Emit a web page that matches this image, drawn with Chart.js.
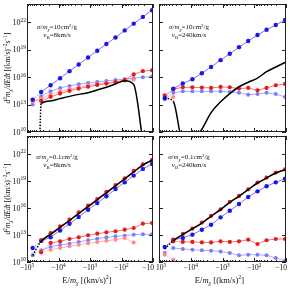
<!DOCTYPE html>
<html>
<head>
<meta charset="utf-8">
<script src="https://cdn.jsdelivr.net/npm/chart.js@4/dist/chart.umd.min.js"></script>
<style>
  body { margin: 0; background: #fff; }
  #wrap { position: relative; width: 290px; height: 291px; }
  #wrap canvas { position: absolute; left: 0; top: 0; }
</style>
</head>
<body>
<div id="wrap">
  <canvas id="tl" width="290" height="291"></canvas>
  <canvas id="tr" width="290" height="291"></canvas>
  <canvas id="bl" width="290" height="291"></canvas>
  <canvas id="br" width="290" height="291"></canvas>
</div>
<script>
// E/m_chi bins in (km/s)^2 (negative energies)
const energyBins = [-66000, -35500, -17800, -8900, -4470, -2290, -1150, -589, -302, -155, -79, -41, -21, -10.7];

// tick values
const xTicks = [-1e5, -1e4, -1e3, -1e2, -10];
const yTicks = [1e10, 1e13, 1e16, 1e19, 1e22];

// panel labels
const crossSections = ['10', '10', '0.1', '0.1'];
const vBaryon = ['8', '240', '8', '240'];

// top left: sigma/m = 10 cm^2/g, vB = 8 km/s
const tlBlue = [3.5e13, 2.4e14, 1.3e15, 7.6e15, 4.5e16, 2.4e17, 1.4e18, 7.8e18, 4.2e19, 2.2e20, 1.3e21, 7.1e21, 3.9e22, 2.1e23];
const tlRed = [3.2e13, 2.5e13, 7.1e13, 1.6e14, 3.2e14, 5.6e14, 8.9e14, 1.4e15, 2.0e15, 2.8e15, 5.0e15, 2.0e16, 4.5e16, 5.6e16];
const tlLightBlue = [1.0e13, 7.9e13, 2.8e14, 6.6e14, 1.1e15, 1.7e15, 2.3e15, 3.0e15, 3.9e15, 5.0e15, 5.9e15, 7.6e15, 9.8e15, 1.2e16];
const tlLightRed = [2.0e13, 4.5e13, 1.3e14, 2.8e14, 5.0e14, 7.9e14, 1.3e15, 1.8e15, 2.5e15, 3.2e15, 4.0e15, 5.6e15];
const tlBlackE = [-39800, -35500, -17800, -8900, -4470, -2290, -1150, -589, -302, -155, -79, -41, -21];
const tlBlack = [1e9, 1.3e13, 2.5e13, 4.5e13, 7.9e13, 1.3e14, 2.0e14, 4.0e14, 7.9e14, 1.8e15, 4.0e15, 1.6e15, 1e9];

// top right: sigma/m = 10 cm^2/g, vB = 240 km/s
const trBlue = [5.2e13, 5.6e14, 2.0e15, 5.9e15, 2.7e16, 1.3e17, 7.2e17, 3.6e18, 1.9e19, 8.9e19, 4.1e20, 1.5e21, 5.1e21, 1.8e22];
const trRed = [1.0e14, 4.7e14, 7.8e14, 7.8e14, 7.2e14, 6.6e14, 8.5e14, 7.8e14, 5.6e14, 6.6e14, 3.6e14, 6.6e14, 1.3e15, 1.8e15];
const trLightBlue = [3.8e13, 2.0e14, 2.8e14, 2.8e14, 2.8e14, 2.8e14, 2.8e14, 2.4e14, 2.0e14, 1.2e14, 1.4e14, 2.0e14, 1.4e14, 6.8e13];
const trLightRed = [6.8e13, 6.8e13];
const trBlack = [5.2e13, 2.3e13, 1e9, 1e9, 2.0e10, 1.3e12, 2.0e13, 1.6e14, 8.9e14, 2.8e15, 7.9e15, 4.0e16, 1.3e17, 4.0e17];

// bottom left: sigma/m = 0.1 cm^2/g, vB = 8 km/s
const blBlack = [5.5e10, 2.0e12, 1.2e13, 6.9e13, 4.1e14, 2.4e15, 1.4e16, 8.3e16, 4.9e17, 2.9e18, 1.7e19, 1.0e20, 5.9e20, 2.0e21];
const blRedUp = [null, 2.8e12, 1.6e13, 8.9e13, 5.0e14, 3.2e15, 1.8e16, 1.0e17, 6.3e17, 3.5e18, 2.0e19, 1.3e20, 7.1e20, 2.2e21];
const blBlueUp = [3.6e11, 2.2e12, 5.6e12, 3.2e13, 1.8e14, 1.0e15, 6.3e15, 3.5e16, 2.0e17, 1.3e18, 7.1e18, 4.0e19, 2.2e20, 7.9e20];
const blRedLow = [null, 1.2e11, 1.3e12, 2.0e12, 3.6e12, 5.5e12, 9.1e12, 1.4e13, 2.0e13, 2.6e13, 3.9e13, 6.0e13, 1.8e14, 2.1e14];
const blLightBlue = [5.5e10, 2.0e11, 4.7e11, 7.8e11, 1.1e12, 1.7e12, 2.6e12, 3.9e12, 5.5e12, 7.1e12, 8.5e12, 1.1e13, 1.2e13, 1.2e13];
const blLightRed = [null, 1.3e11, 2.3e11, 3.6e11, 5.5e11, 8.5e11, 1.2e12, 1.7e12, 2.3e12, 3.0e12, 4.7e12, 1.5e12];

// bottom right: sigma/m = 0.1 cm^2/g, vB = 240 km/s
const brBlack = [2.8e11, 2.3e12, 1.1e13, 4.7e13, 2.1e14, 1.2e15, 6.5e15, 4.3e16, 2.0e17, 1.1e18, 6.0e18, 2.1e19, 7.8e19, 1.8e20];
const brRedUp = [null, 2.8e12, 1.3e13, 5.2e13, 2.4e14, 1.3e15, 7.2e15, 4.8e16, 2.2e17, 1.2e18, 6.8e18, 2.4e19, 8.7e19, 2.0e20];
const brBlueUp = [4.7e11, 3.0e12, 4.7e12, 1.1e13, 3.9e13, 1.4e14, 9.1e14, 5.0e15, 2.8e16, 1.7e17, 7.1e17, 2.6e18, 7.1e18, 1.8e19];
const brRedLow = [null, 2.0e12, 1.7e12, 1.7e12, 1.5e12, 1.5e12, 2.0e12, 1.7e12, 2.0e12, 3.0e12, 1.0e12, 2.6e12, 3.6e12, 3.6e12];
const brLightBlue = [1.0e11, 3.6e11, 2.8e11, 2.3e11, 2.0e11, 1.8e11, 1.5e11, 1.0e11, 5.5e10, 6.5e10, 6.5e10, 5.5e10, 2.8e10, 1.4e10];
const brLightRed = [6.5e10, 1.8e10];

const SERIF = '"Liberation Serif", "DejaVu Serif", serif';

const styles = {
  black: { borderColor: '#000', borderWidth: 1.5, pointRadius: 0, cubicInterpolationMode: 'monotone' },
  blue: { borderColor: '#8a70dc', borderWidth: 1, pointRadius: 2.2, pointBackgroundColor: '#1616f0', pointBorderWidth: 0 },
  red: { borderColor: '#f07474', borderWidth: 1, pointRadius: 2.1, pointBackgroundColor: '#e41c1c', pointBorderWidth: 0 },
  lightBlue: { borderColor: '#a9a9ff', borderWidth: 1, pointRadius: 2, pointBackgroundColor: '#7c7cff', pointBorderWidth: 0 },
  lightRed: { borderColor: '#ffb2b2', borderWidth: 1, pointRadius: 2, pointBackgroundColor: '#ff8a8a', pointBorderWidth: 0 }
};

// draw a text made of pieces: n = normal, i = italic, sub / sup (optionally italic: isub, isup)
function drawRich(ctx, parts, x, y, size, align) {
  const fontFor = k => {
    const small = k.indexOf('sub') >= 0 || k.indexOf('sup') >= 0;
    return (k[0] === 'i' ? 'italic ' : '') + (small ? size * 0.7 : size) + 'px ' + SERIF;
  };
  let w = 0;
  parts.forEach(p => { ctx.font = fontFor(p[1]); w += ctx.measureText(p[0]).width; });
  let cx = align === 'right' ? x - w : (align === 'left' ? x : x - w / 2);
  const base = y + size * 0.33;
  ctx.textAlign = 'left';
  ctx.textBaseline = 'alphabetic';
  parts.forEach(p => {
    ctx.font = fontFor(p[1]);
    const dy = p[1].indexOf('sub') >= 0 ? size * 0.25 : (p[1].indexOf('sup') >= 0 ? -size * 0.4 : 0);
    ctx.fillText(p[0], cx, base + dy);
    cx += ctx.measureText(p[0]).width;
  });
}

function expOf(v) { return Math.round(Math.log10(Math.abs(v))); }

// frame, inward ticks, tick labels and texts
const panelDecor = {
  id: 'panelDecor',
  afterDraw(chart, args, o) {
    const ctx = chart.ctx;
    const a = chart.chartArea;
    const xs = chart.scales.x, ys = chart.scales.y;
    ctx.save();
    ctx.strokeStyle = '#222';
    ctx.lineWidth = 1;
    ctx.strokeRect(a.left + 0.5, a.top + 0.5, a.right - a.left - 1, a.bottom - a.top - 1);

    ctx.beginPath();
    yTicks.forEach(v => {
      const py = Math.round(ys.getPixelForValue(v)) + 0.5;
      ctx.moveTo(a.left, py); ctx.lineTo(a.left + 4, py);
      ctx.moveTo(a.right, py); ctx.lineTo(a.right - 4, py);
    });
    xTicks.forEach(v => {
      const px = Math.round(xs.getPixelForValue(-v)) + 0.5;
      ctx.moveTo(px, a.bottom); ctx.lineTo(px, a.bottom - 4);
      ctx.moveTo(px, a.top); ctx.lineTo(px, a.top + 4);
    });
    for (let n = 1; n < 5; n++) {
      for (let k = 2; k < 10; k++) {
        const px = Math.round(xs.getPixelForValue(k * Math.pow(10, n))) + 0.5;
        ctx.moveTo(px, a.bottom); ctx.lineTo(px, a.bottom - 2);
        ctx.moveTo(px, a.top); ctx.lineTo(px, a.top + 2);
      }
    }
    ctx.stroke();

    ctx.fillStyle = '#111';
    if (o.yLabels) {
      yTicks.forEach(v => {
        drawRich(ctx, [['10', 'n'], [String(expOf(v)), 'sup']], a.left - 1, ys.getPixelForValue(v), 8, 'right');
      });
      ctx.save();
      ctx.translate(8, (a.top + a.bottom) / 2);
      ctx.rotate(-Math.PI / 2);
      drawRich(ctx, [['d', 'i'], ['2', 'sup'], ['m', 'i'], ['χ', 'isub'], ['/dEdt', 'i'], [' [(km/s)', 'n'], ['−2', 'sup'], ['s', 'n'], ['−1', 'sup'], [']', 'n']], 0, 0, 7.5, 'center');
      ctx.restore();
    }
    if (o.xLabels) {
      ctx.save();
      ctx.beginPath();
      ctx.rect(o.clipLeft, 0, 290, 291);
      ctx.clip();
      xTicks.forEach(v => {
        const px = xs.getPixelForValue(-v);
        const e = expOf(v);
        const parts = e === 1 ? [['−10', 'n']] : [['−10', 'n'], [String(e), 'sup']];
        const atRight = Math.abs(px - a.right) < 2;
        drawRich(ctx, parts, atRight ? a.right + 1 : px, a.bottom + 6, 7.5, atRight ? 'right' : 'center');
      });
      ctx.restore();
      drawRich(ctx, [['E/', 'n'], ['m', 'i'], ['χ', 'isub'], [' [(km/s)', 'n'], ['2', 'sup'], [']', 'n']], (a.left + a.right) / 2 - 3, a.bottom + 18, 8.5, 'center');
    }

    const nx = a.left + 30;
    drawRich(ctx, [['σ', 'i'], ['/', 'n'], ['m', 'i'], ['χ', 'isub'], ['=' + crossSections[o.idx] + 'cm', 'n'], ['2', 'sup'], ['/g', 'n']], nx, a.top + o.noteY, 7, 'center');
    drawRich(ctx, [['v', 'i'], ['B', 'sub'], ['=' + vBaryon[o.idx] + 'km/s', 'n']], nx, a.top + o.noteY + 8, 7, 'center');
    ctx.restore();
  }
};

function series(kind, energies, values) {
  const pts = [];
  energies.forEach((e, i) => {
    if (values[i] != null) pts.push({ x: -e, y: values[i] });
  });
  return Object.assign({
    data: pts,
    fill: false,
    tension: 0,
    segment: { borderDash: c => (c.p0DataIndex === 0 ? [1.5, 1.5] : undefined) }
  }, styles[kind]);
}

const panels = [
  { id: 'tl', box: [27, 2, 153, 132], idx: 0, xLabels: false, yLabels: true, noteY: 23,
    sets: [series('black', tlBlackE, tlBlack), series('blue', energyBins, tlBlue), series('red', energyBins, tlRed),
           series('lightRed', energyBins, tlLightRed), series('lightBlue', energyBins, tlLightBlue)] },
  { id: 'tr', box: [159, 2, 287, 132], idx: 1, xLabels: false, yLabels: false, noteY: 23,
    sets: [series('black', energyBins, trBlack), series('blue', energyBins, trBlue), series('red', energyBins, trRed),
           series('lightRed', energyBins, trLightRed), series('lightBlue', energyBins, trLightBlue)] },
  { id: 'bl', box: [27, 136, 153, 262], idx: 2, xLabels: true, yLabels: true, clipLeft: 0, noteY: 21,
    sets: [series('black', energyBins, blBlack), series('red', energyBins, blRedUp), series('blue', energyBins, blBlueUp),
           series('red', energyBins, blRedLow), series('lightRed', energyBins, blLightRed), series('lightBlue', energyBins, blLightBlue)] },
  { id: 'br', box: [159, 136, 287, 262], idx: 3, xLabels: true, yLabels: false, clipLeft: 156, noteY: 21,
    sets: [series('black', energyBins, brBlack), series('red', energyBins, brRedUp), series('blue', energyBins, brBlueUp),
           series('red', energyBins, brRedLow), series('lightRed', energyBins, brLightRed), series('lightBlue', energyBins, brLightBlue)] }
];

panels.forEach(p => {
  const b = p.box;
  new Chart(document.getElementById(p.id), {
    type: 'line',
    data: { datasets: p.sets },
    options: {
      responsive: false,
      animation: false,
      devicePixelRatio: 1,
      layout: { padding: { left: b[0], top: b[1], right: 290 - b[2], bottom: 291 - b[3] } },
      plugins: {
        legend: { display: false },
        tooltip: { enabled: false },
        panelDecor: { idx: p.idx, xLabels: p.xLabels, yLabels: p.yLabels, clipLeft: p.clipLeft || 0, noteY: p.noteY }
      },
      scales: {
        x: {
          type: 'logarithmic', reverse: true, min: 10, max: 1e5,
          ticks: { display: false }, grid: { display: false }, border: { display: false },
          afterFit: s => { s.height = 0; }
        },
        y: {
          type: 'logarithmic', min: 1e10, max: 1e24,
          ticks: { display: false }, grid: { display: false }, border: { display: false },
          afterFit: s => { s.width = 0; }
        }
      }
    },
    plugins: [panelDecor]
  });
});
</script>
</body>
</html>
